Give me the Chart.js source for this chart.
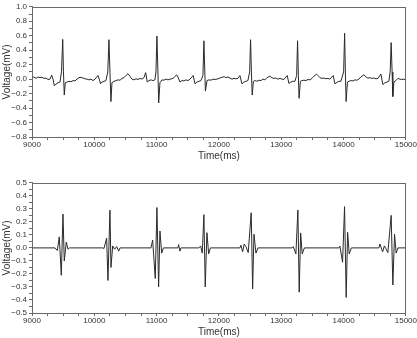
<!DOCTYPE html>
<html lang="en">
  <head>
    <meta charset="UTF-8" />
    <title>ECG signal and filtered signal</title>
    <script src="https://cdn.jsdelivr.net/npm/chart.js"></script>
    <style>
      html, body { margin: 0; padding: 0; background: #fff; }
      body { width: 417px; height: 338px; position: relative; overflow: hidden; }
      .box { position: absolute; left: 0; width: 417px; height: 162px; }
    </style>
  </head>
  <body>
    <div class="box" style="top: 0px"><canvas id="rawChart"></canvas></div>
    <div class="box" style="top: 176px"><canvas id="filteredChart"></canvas></div>

    <script>
      // raw ECG (top panel)
      const timeTop = [9000,9032,9064,9096,9128,9160,9193,9225,9257,9289,
        9316,9337,9358,9385,9417,9449,9473,9493,9505,9518,9534,9562,9594,9626,9658,9690,9722,9754,9786,9818,9850,9882,9914,9947,9979,10011,
        10059,10083,10099,10123,10155,10187,10216,10235,10251,10267,10283,10316,10348,10380,10412,10444,10476,10508,10540,10572,10604,10636,10668,10701,10733,10765,10797,
        10824,10850,10877,10909,10941,10973,10989,11005,11021,11033,11053,11086,11118,11150,11182,11214,11246,11278,11321,11342,11374,11406,11439,11471,11503,11535,
        11588,11615,11647,11679,11711,11743,11759,11775,11783,11808,11840,11872,11904,11936,11968,12000,12032,12085,12112,12144,12177,12209,12241,12273,12305,
        12337,12369,12401,12433,12465,12493,12508,12521,12534,12553,12577,12610,12642,12674,12706,12738,12770,12818,12850,12882,12914,12946,12979,13011,13043,
        13096,13123,13155,13187,13219,13247,13262,13275,13286,13307,13332,13364,13396,13428,13460,13492,13524,13567,13589,13621,13653,13685,13717,13749,13781,
        13834,13861,13893,13925,13957,14001,14017,14029,14041,14062,14086,14118,14150,14182,14214,14246,14278,14326,14358,14390,14422,14455,14487,14519,14551,
        14599,14631,14663,14695,14727,14748,14764,14779,14790,14808,14840,14872,14904,14936,14968,15000];
      const voltTop = [0.02,0.03,0.01,0.03,0.02,0.025,0.01,0.015,-0.005,0.0,
        0.055,0.0,-0.09,-0.07,-0.05,-0.04,0.1,0.55,0.1,-0.22,-0.05,-0.04,-0.03,-0.035,-0.02,-0.025,0.0,0.02,0.025,0.015,0.005,0.0,-0.01,0.0,-0.02,0.0,
        0.05,-0.01,-0.065,-0.04,-0.03,-0.02,0.1,0.545,0.1,-0.31,-0.05,-0.03,-0.02,-0.01,-0.015,0.01,0.02,0.05,0.075,0.04,0.0,-0.01,0.005,-0.005,0.01,0.0,0.02,
        0.09,-0.04,-0.02,-0.01,-0.02,-0.01,0.1,0.595,0.1,-0.33,-0.05,-0.01,-0.015,0.0,-0.01,0.0,0.005,0.02,0.06,0.03,-0.04,-0.02,-0.025,-0.01,-0.02,0.0,
        0.05,-0.065,-0.04,-0.03,-0.02,0.05,0.53,0.05,-0.165,-0.02,-0.01,-0.015,0.0,-0.005,0.0,0.01,0.02,0.035,0.02,0.03,0.015,0.0,0.01,0.005,0.01,
        0.05,-0.065,-0.04,-0.03,-0.02,0.1,0.545,0.1,-0.22,-0.03,-0.02,-0.03,-0.015,-0.02,0.0,-0.01,0.02,0.04,0.02,0.01,0.015,0.0,0.01,0.0,-0.005,
        0.05,-0.06,-0.04,-0.03,-0.03,0.05,0.53,0.05,-0.265,-0.03,-0.02,-0.015,-0.02,-0.005,-0.01,0.01,0.04,0.07,0.05,0.02,0.01,0.015,0.005,0.01,0.0,
        0.05,-0.065,-0.045,-0.03,-0.03,0.1,0.635,0.1,-0.31,-0.04,-0.03,-0.02,-0.025,-0.01,-0.015,0.0,0.03,0.06,0.03,0.015,0.02,0.01,0.015,0.005,0.01,
        0.07,-0.075,-0.05,-0.04,-0.03,0.1,0.505,0.1,-0.24,-0.04,-0.02,0.01,0.0,-0.005,0.0,-0.015];

      // filtered signal (bottom panel)
      const timeBottom = [9000,
        9369,9406,9438,9470,9497,9518,9550,9578,9602,
        10139,10155,10198,10219,10251,10267,10295,10327,10359,10391,10412,
        10909,10936,10978,11005,11032,11053,11081,11110,
        11342,11353,11374,11390,
        11679,11706,11732,11759,11780,11807,11835,11863,
        12337,12353,12380,12406,12433,12470,12518,12541,12562,12594,12626,
        13171,13192,13235,13267,13288,13311,13336,13372,
        13925,13941,13984,14016,14042,14065,14090,14126,
        14567,14583,14627,14655,14679,14711,14764,14791,14818,14844,14872,
        15000];
      const voltBottom = [0,
        0,-0.02,0.085,-0.21,0.26,-0.10,0.045,-0.01,0,
        0,-0.005,0.075,-0.25,0.29,-0.15,0.015,-0.01,0.01,-0.025,0,
        0,0.06,-0.235,0.31,-0.30,0.13,-0.04,0,
        0,0.025,-0.025,0,
        0,0.015,-0.04,0.255,-0.30,0.117,-0.046,0,
        0,0.02,-0.03,0.03,0.01,-0.036,0.27,-0.315,0.105,-0.04,0,
        0,0.01,-0.046,0.29,-0.34,0.115,-0.046,0,
        0,0.014,-0.11,0.317,-0.38,0.12,-0.046,0,
        0,0.03,-0.03,0.015,-0.005,-0.036,0.25,-0.285,0.105,-0.04,0,
        0];

      const xRange = [9000, 15000];
      const xMajor = 1000;
      const xMinor = 250;
      const yRangeTop = [-0.8, 1.0];
      const yRangeBottom = [-0.5, 0.5];

      const FONT = "'Liberation Sans', Arial, sans-serif";
      const AXIS = "#6a6a6a";
      const TEXT = "#333";

      const isMultiple = (v, step) => Math.abs(v / step - Math.round(v / step)) < 1e-6;
      const fmtY = (v) => {
        const s = Math.abs(v).toFixed(1);
        return v < -1e-9 ? "\u2212" + s : s;
      };

      // box round the plot area
      const frame = {
        id: "frame",
        afterDraw(chart) {
          const { ctx, chartArea: a } = chart;
          ctx.save();
          ctx.strokeStyle = AXIS;
          ctx.lineWidth = 1;
          ctx.strokeRect(Math.round(a.left) + 0.5, Math.round(a.top) + 0.5,
            Math.round(a.right - a.left) - 1, Math.round(a.bottom - a.top));
          ctx.restore();
        },
      };

      function makeChart(id, times, volts, yRange, yMajor, yMinor) {
        const ctx = document.getElementById(id).getContext("2d");
        return new Chart(ctx, {
          type: "line",
          data: {
            datasets: [
              {
                data: times.map((t, i) => ({ x: t, y: volts[i] })),
                borderColor: "#2a2a2a",
                borderWidth: 1,
                pointRadius: 0,
                tension: 0,
              },
            ],
          },
          options: {
            responsive: true,
            maintainAspectRatio: false,
            animation: false,
            events: [],
            layout: { padding: { top: 5, right: 11, left: 0, bottom: 0 } },
            plugins: { legend: { display: false }, tooltip: { enabled: false } },
            scales: {
              x: {
                type: "linear",
                min: xRange[0],
                max: xRange[1],
                afterFit: (s) => { s.height = 25; },
                border: { color: AXIS, width: 1 },
                grid: { drawOnChartArea: false, drawTicks: true, tickLength: 3, color: AXIS },
                ticks: {
                  stepSize: xMinor,
                  autoSkip: false,
                  maxRotation: 0,
                  padding: 0,
                  color: TEXT,
                  font: { family: FONT, size: 8 },
                  callback: (v) => (isMultiple(v, xMajor) ? String(v) : ""),
                },
                title: {
                  display: true,
                  text: "Time(ms)",
                  color: TEXT,
                  padding: 0,
                  font: { family: FONT, size: 10 },
                },
              },
              y: {
                min: yRange[0],
                max: yRange[1],
                afterFit: (s) => { s.width = 32; },
                border: { color: AXIS, width: 1 },
                grid: { drawOnChartArea: false, drawTicks: true, tickLength: 3, color: AXIS },
                ticks: {
                  stepSize: yMinor,
                  autoSkip: false,
                  padding: 2,
                  color: TEXT,
                  font: { family: FONT, size: 8 },
                  callback: (v) => (isMultiple(v, yMajor) ? fmtY(v) : ""),
                },
                title: {
                  display: true,
                  text: "Voltage(mV)",
                  color: TEXT,
                  padding: { top: 1, bottom: 0 },
                  font: { family: FONT, size: 10 },
                },
              },
            },
          },
          plugins: [frame],
        });
      }

      makeChart("rawChart", timeTop, voltTop, yRangeTop, 0.2, 0.1);
      makeChart("filteredChart", timeBottom, voltBottom, yRangeBottom, 0.1, 0.05);
    </script>
  </body>
</html>
